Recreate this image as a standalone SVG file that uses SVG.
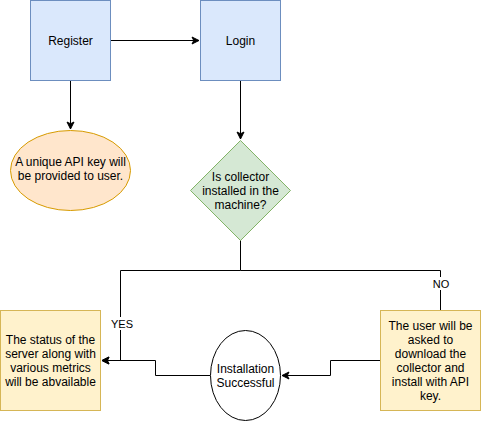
<svg xmlns="http://www.w3.org/2000/svg" width="481" height="421" viewBox="0 0 481 421">
<style>
.blue{fill:#dae8fc;stroke:#6c8ebf;stroke-width:1}
.orange{fill:#ffe6cc;stroke:#d79b00;stroke-width:1}
.green{fill:#d5e8d4;stroke:#82b366;stroke-width:1}
.yellow{fill:#fff2cc;stroke:#d6b656;stroke-width:1}
.plain{fill:#ffffff;stroke:#000000;stroke-width:1}
.edge{fill:none;stroke:#000000;stroke-width:1}
text{font-family:"Liberation Sans",Arial,sans-serif;font-size:12px;fill:#000000;text-anchor:middle}
.lbl{font-size:11px}
</style>
<defs>
<marker id="arr" markerWidth="10" markerHeight="10" refX="8" refY="5" orient="auto" markerUnits="userSpaceOnUse">
<path d="M1,1.5 L8,5 L1,8.5 L2.75,5 Z" fill="#000" stroke="#000" stroke-width="1"/>
</marker>
</defs>
<g id="connectors">
<path class="edge" d="M110.5,40.5 L199,40.5" marker-end="url(#arr)"/>
<path class="edge" d="M70.5,80.5 L70.5,129" marker-end="url(#arr)"/>
<path class="edge" d="M240.5,80.5 L240.5,139" marker-end="url(#arr)"/>
<path class="edge" d="M240.5,240 L240.5,270.5 L120.5,270.5 L120.5,360.5 L102,360.5" marker-end="url(#arr)"/>
<path class="edge" d="M240.5,270.5 L440.5,270.5 L440.5,310"/>
<path class="edge" d="M380.5,360.5 L330.5,360.5 L330.5,375.5 L282,375.5" marker-end="url(#arr)"/>
<path class="edge" d="M210,375.5 L155.5,375.5 L155.5,360.5 L102,360.5" marker-end="url(#arr)"/>
<rect x="430" y="277" width="22" height="13" fill="#ffffff"/>
<text class="lbl" x="441" y="288">NO</text>
<rect x="108" y="317" width="26" height="13" fill="#ffffff"/>
<text class="lbl" x="122" y="328">YES</text>
</g>
<g id="register">
<rect class="blue" x="30.5" y="0.5" width="80" height="80"/>
<text x="70.5" y="45">Register</text>
</g>
<g id="login">
<rect class="blue" x="200.5" y="0.5" width="80" height="80"/>
<text x="240.5" y="45">Login</text>
</g>
<g id="apikey">
<ellipse class="orange" cx="70.5" cy="170.5" rx="60" ry="40"/>
<text x="70.5" y="166">A unique API key will</text>
<text x="70.5" y="180">be provided to user.</text>
</g>
<g id="decision">
<path class="green" d="M240.5,140.5 L290.5,190.5 L240.5,240.5 L190.5,190.5 Z"/>
<text x="240.5" y="181">Is collector</text>
<text x="240.5" y="195">installed in the</text>
<text x="240.5" y="209">machine?</text>
</g>
<g id="status">
<rect class="yellow" x="0.5" y="310.5" width="100" height="100"/>
<text x="50.5" y="344">The status of the</text>
<text x="50.5" y="358">server along with</text>
<text x="50.5" y="372">various metrics</text>
<text x="50.5" y="386">will be abvailable</text>
</g>
<g id="installation">
<ellipse class="plain" cx="245.5" cy="375.5" rx="35" ry="45"/>
<text x="245.5" y="373">Installation</text>
<text x="245.5" y="387">Successful</text>
</g>
<g id="download">
<rect class="yellow" x="380.5" y="310.5" width="100" height="100"/>
<text x="430.5" y="330">The user will be</text>
<text x="430.5" y="344">asked to</text>
<text x="430.5" y="358">download the</text>
<text x="430.5" y="372">collector and</text>
<text x="430.5" y="386">install with API</text>
<text x="430.5" y="400">key.</text>
</g>
</svg>
